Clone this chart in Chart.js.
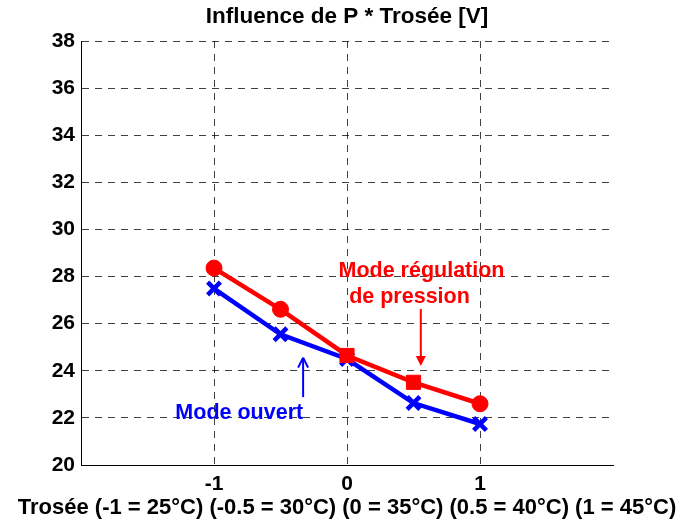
<!DOCTYPE html>
<html>
<head>
    <title>Influence de P * Trosée</title>
    <script src="https://cdn.jsdelivr.net/npm/chart.js"></script>
    <style>
        html, body { margin: 0; padding: 0; background: #fff; }
        #wrap { width: 697px; height: 524px; }
    </style>
</head>
<body>
    <div id="wrap"><canvas id="chart"></canvas></div>

    <script>
        // Trosée (valeurs normalisées) et tensions mesurées
        var trosee = [-1, -0.5, 0, 0.5, 1];
        var modeRegulation = [28.36, 26.61, 24.65, 23.51, 22.6];
        var modeOuvert = [27.49, 25.55, 24.5, 22.63, 21.74];
        var xTicks = [-1, 0, 1];

        var FONT = "'Liberation Sans', Arial, Helvetica, sans-serif";
        var TITLE = 'Influence de P * Trosée [V]';
        var X_TITLE = 'Trosée (-1 = 25°C) (-0.5 = 30°C) (0 = 35°C) (0.5 = 40°C) (1 = 45°C)';

        // textes et flèches placés en coordonnées des axes
        var notes = [
            { text: 'Mode régulation', x: 0.56, y: 28.22, color: '#ff0000' },
            { text: 'de pression', x: 0.47, y: 27.12, color: '#ff0000' },
            { text: 'Mode ouvert', x: -0.81, y: 22.2, color: '#0000ff' }
        ];
        var arrows = [
            { x: 0.555, from: 26.62, to: 24.2, color: '#ff0000', filled: true },
            { x: -0.33, from: 22.88, to: 24.56, color: '#0000ff', filled: false }
        ];

        var notesPlugin = {
            id: 'notes',
            afterDatasetsDraw: function (chart) {
                var ctx = chart.ctx;
                var sx = chart.scales.x, sy = chart.scales.y;
                ctx.save();
                ctx.font = 'bold 21.5px ' + FONT;
                ctx.textAlign = 'center';
                ctx.textBaseline = 'middle';
                notes.forEach(function (n) {
                    ctx.fillStyle = n.color;
                    ctx.fillText(n.text, sx.getPixelForValue(n.x), sy.getPixelForValue(n.y));
                });
                arrows.forEach(function (a) {
                    var px = sx.getPixelForValue(a.x);
                    var y0 = sy.getPixelForValue(a.from);
                    var y1 = sy.getPixelForValue(a.to);
                    var dir = y1 > y0 ? 1 : -1;
                    ctx.strokeStyle = a.color;
                    ctx.fillStyle = a.color;
                    ctx.lineWidth = 2;
                    ctx.beginPath();
                    ctx.moveTo(px, y0);
                    ctx.lineTo(px, y1 - dir * (a.filled ? 6 : 1));
                    ctx.stroke();
                    ctx.beginPath();
                    ctx.moveTo(px, y1);
                    ctx.lineTo(px - 5, y1 - dir * 10);
                    if (a.filled) {
                        ctx.lineTo(px + 5, y1 - dir * 10);
                        ctx.closePath();
                        ctx.fill();
                    } else {
                        ctx.moveTo(px, y1);
                        ctx.lineTo(px + 5, y1 - dir * 10);
                        ctx.stroke();
                    }
                });
                ctx.restore();
            },
            // titre et légende de l'axe x centrés sur la zone de tracé
            afterDraw: function (chart) {
                var ctx = chart.ctx;
                var area = chart.chartArea;
                var cx = (area.left + area.right) / 2;
                ctx.save();
                ctx.fillStyle = '#000';
                ctx.textAlign = 'center';
                ctx.textBaseline = 'middle';
                ctx.font = 'bold 22.5px ' + FONT;
                ctx.fillText(TITLE, cx, 17);
                ctx.font = 'bold 22px ' + FONT;
                ctx.fillText(X_TITLE, cx, 508);
                ctx.restore();
            }
        };

        var ctx = document.getElementById('chart').getContext('2d');
        new Chart(ctx, {
            type: 'line',
            data: {
                labels: trosee,
                datasets: [
                    {
                        label: 'Mode ouvert',
                        data: trosee.map(function (x, i) { return { x: x, y: modeOuvert[i] }; }),
                        borderColor: '#0000ff',
                        backgroundColor: '#0000ff',
                        borderWidth: 4.5,
                        pointStyle: 'crossRot',
                        pointRadius: 9,
                        pointBorderWidth: 4.5,
                        tension: 0,
                        order: 2
                    },
                    {
                        label: 'Mode régulation de pression',
                        data: trosee.map(function (x, i) { return { x: x, y: modeRegulation[i] }; }),
                        borderColor: '#ff0000',
                        backgroundColor: '#ff0000',
                        borderWidth: 4.5,
                        pointStyle: ['circle', 'circle', 'rect', 'rect', 'circle'],
                        pointRadius: [8, 8, 10, 10, 8],
                        pointBorderWidth: 1,
                        tension: 0,
                        order: 1
                    }
                ]
            },
            options: {
                responsive: true,
                maintainAspectRatio: false,
                animation: false,
                layout: { padding: { left: 0, right: 84, top: 41, bottom: 0 } },
                plugins: {
                    legend: { display: false },
                    tooltip: { enabled: false },
                    title: { display: false }
                },
                scales: {
                    x: {
                        type: 'linear',
                        min: -2,
                        max: 2,
                        afterBuildTicks: function (scale) {
                            scale.ticks = xTicks.map(function (v) { return { value: v }; });
                        },
                        afterFit: function (scale) { scale.height = 59; },
                        border: { display: true, color: '#000', width: 1, dash: [7, 6] },
                        grid: {
                            color: 'rgba(0,0,0,0.75)',
                            lineWidth: 1,
                            drawTicks: false
                        },
                        ticks: {
                            color: '#000',
                            padding: 7,
                            font: { family: FONT, size: 21, weight: 'bold' }
                        }
                    },
                    y: {
                        min: 20,
                        max: 38,
                        afterFit: function (scale) { scale.width = 81; },
                        border: { display: true, color: '#000', width: 1, dash: [7, 6] },
                        grid: {
                            color: 'rgba(0,0,0,0.75)',
                            lineWidth: 1,
                            drawTicks: false
                        },
                        ticks: {
                            stepSize: 2,
                            color: '#000',
                            padding: 6,
                            font: { family: FONT, size: 21, weight: 'bold' }
                        }
                    }
                }
            },
            plugins: [notesPlugin]
        });
    </script>
</body>
</html>
